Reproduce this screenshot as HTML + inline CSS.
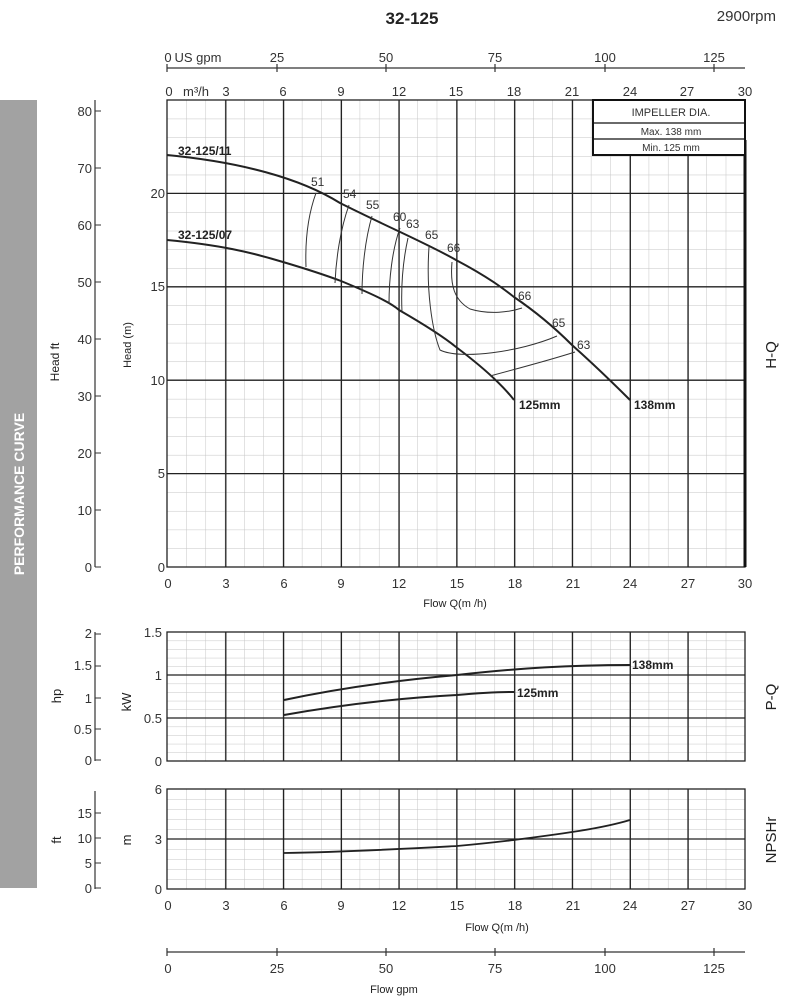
<!DOCTYPE html>
<html><head><meta charset="utf-8"><style>
html,body{margin:0;padding:0;background:#fff;}
svg{display:block;font-family:"Liberation Sans",sans-serif;}
</style></head><body>
<svg width="790" height="1000" viewBox="0 0 790 1000" xmlns="http://www.w3.org/2000/svg">
<defs>
<pattern id="gh" x="167" y="100" width="19.267" height="18.68" patternUnits="userSpaceOnUse">
<path d="M0 0V18.68M0 0H19.267" stroke="#c4c4c4" stroke-width="1" fill="none"/></pattern>
<pattern id="gp" x="167" y="632" width="19.267" height="8.6" patternUnits="userSpaceOnUse">
<path d="M0 0V8.6M0 0H19.267" stroke="#c4c4c4" stroke-width="1" fill="none"/></pattern>
<pattern id="gn" x="167" y="789" width="19.267" height="10" patternUnits="userSpaceOnUse">
<path d="M0 0V10M0 0H19.267" stroke="#c4c4c4" stroke-width="1" fill="none"/></pattern>
</defs>

<!-- titles -->
<text x="412" y="24" font-size="17" font-weight="bold" text-anchor="middle" fill="#222">32-125</text>
<text x="776" y="21" font-size="15" text-anchor="end" fill="#333">2900rpm</text>

<!-- gray band -->
<rect x="0" y="100" width="37" height="788" fill="#a2a2a2"/>
<text transform="translate(24,494) rotate(-90)" font-size="14" font-weight="bold" fill="#fff" text-anchor="middle">PERFORMANCE CURVE</text>

<!-- top axes -->
<g stroke="#333" stroke-width="1.2">
<line x1="167" y1="68" x2="745" y2="68"/>
<line x1="167" y1="64" x2="167" y2="72"/><line x1="277" y1="64" x2="277" y2="72"/><line x1="386" y1="64" x2="386" y2="72"/><line x1="495" y1="64" x2="495" y2="72"/><line x1="605" y1="64" x2="605" y2="72"/><line x1="714" y1="64" x2="714" y2="72"/>
</g>
<g font-size="13" fill="#333" text-anchor="middle">
<text x="168" y="62">0</text><text x="198" y="62" font-size="13">US gpm</text><text x="277" y="62">25</text><text x="386" y="62">50</text><text x="495" y="62">75</text><text x="605" y="62">100</text><text x="714" y="62">125</text>
<text x="169" y="96">0</text><text x="196" y="96">m³/h</text><text x="226" y="96">3</text><text x="283" y="96">6</text><text x="341" y="96">9</text><text x="399" y="96">12</text><text x="456" y="96">15</text><text x="514" y="96">18</text><text x="572" y="96">21</text><text x="630" y="96">24</text><text x="687" y="96">27</text><text x="745" y="96">30</text>
</g>

<!-- HEAD plot -->
<rect x="167" y="100" width="578" height="467" fill="url(#gh)"/>
<g stroke="#222" stroke-width="1.3">
<path d="M225.8 100V567M283.6 100V567M341.4 100V567M399.1 100V567M456.9 100V567M514.7 100V567M572.5 100V567M630.3 100V567M688.1 100V567"/>
<path d="M167 193.4H745M167 286.8H745M167 380.2H745M167 473.6H745"/>
<rect x="167" y="100" width="578" height="467" fill="none"/>
</g>
<line x1="745" y1="140" x2="745" y2="567" stroke="#111" stroke-width="3"/>
<g font-size="13" fill="#333" text-anchor="end">
<text x="165" y="198">20</text><text x="165" y="291">15</text><text x="165" y="385">10</text><text x="165" y="478">5</text><text x="165" y="572">0</text>
</g>
<text transform="translate(131,345) rotate(-90)" font-size="11" fill="#222" text-anchor="middle">Head (m)</text>
<!-- ft axis -->
<line x1="95" y1="100" x2="95" y2="567" stroke="#333" stroke-width="1.2"/>
<g stroke="#333"><path d="M95 111H101M95 168H101M95 225H101M95 282H101M95 339H101M95 396H101M95 453H101M95 510H101M95 567H101"/></g>
<g font-size="13" fill="#333" text-anchor="end">
<text x="92" y="116">80</text><text x="92" y="173">70</text><text x="92" y="230">60</text><text x="92" y="287">50</text><text x="92" y="344">40</text><text x="92" y="401">30</text><text x="92" y="458">20</text><text x="92" y="515">10</text><text x="92" y="572">0</text>
</g>
<text transform="translate(59,362) rotate(-90)" font-size="12" fill="#222" text-anchor="middle">Head ft</text>
<text transform="translate(776,355) rotate(-90)" font-size="15" fill="#222" text-anchor="middle">H-Q</text>

<!-- impeller box -->
<rect x="593" y="100" width="152" height="55" fill="#fff" stroke="#111" stroke-width="2"/>
<line x1="593" y1="123" x2="745" y2="123" stroke="#111" stroke-width="1.3"/>
<line x1="593" y1="139" x2="745" y2="139" stroke="#111" stroke-width="1.3"/>
<g font-size="11" fill="#333" text-anchor="middle">
<text x="671" y="116">IMPELLER DIA.</text><text x="671" y="135" font-size="10">Max.  138 mm</text><text x="671" y="151" font-size="10">Min.   125 mm</text>
</g>

<!-- H-Q curves -->
<g fill="none" stroke="#222" stroke-width="2">
<path d="M167 155 C 240 162, 300 178, 340 203 C 390 228, 430 245, 456 260 C 490 278, 505 290, 514 297 C 545 318, 565 338, 572 345 C 600 370, 615 385, 630 400"/>
<path d="M167 240 C 220 245, 250 252, 283 262 C 310 270, 325 275, 341 281 C 370 293, 390 302, 399 310 C 425 325, 445 338, 456 347 C 480 365, 500 382, 514 400"/>
</g>
<g fill="none" stroke="#333" stroke-width="1">
<path d="M316 193 C 308 215, 305 240, 306 267"/>
<path d="M349 205 C 340 230, 336 260, 335 283"/>
<path d="M372 216 C 365 240, 362 270, 362 294"/>
<path d="M400 228 C 392 250, 389 280, 389 304"/>
<path d="M408 238 C 402 265, 401 290, 402 312"/>
<path d="M429 247 C 426 290, 432 330, 440 350 C 460 360, 520 352, 557 336"/>
<path d="M452 262 C 450 285, 454 300, 470 309 C 490 315, 510 312, 522 308"/>
<path d="M490 376 C 520 368, 550 360, 575 352"/>
</g>
<g font-size="12" fill="#333">
<text x="311" y="186">51</text><text x="343" y="198">54</text><text x="366" y="209">55</text><text x="393" y="221">60</text><text x="406" y="228">63</text><text x="425" y="239">65</text><text x="447" y="252">66</text>
<text x="518" y="300">66</text><text x="552" y="327">65</text><text x="577" y="349">63</text>
</g>
<g font-size="12" font-weight="bold" fill="#222">
<text x="178" y="155">32-125/11</text><text x="178" y="239">32-125/07</text>
<text x="519" y="409">125mm</text><text x="634" y="409">138mm</text>
</g>
<g font-size="13" fill="#333" text-anchor="middle">
<text x="168" y="588">0</text><text x="226" y="588">3</text><text x="284" y="588">6</text><text x="341" y="588">9</text><text x="399" y="588">12</text><text x="457" y="588">15</text><text x="515" y="588">18</text><text x="573" y="588">21</text><text x="630" y="588">24</text><text x="688" y="588">27</text><text x="745" y="588">30</text>
</g>
<text x="455" y="607" font-size="11" fill="#222" text-anchor="middle">Flow Q(m /h)</text>

<!-- POWER plot -->
<rect x="167" y="632" width="578" height="129" fill="url(#gp)"/>
<g stroke="#222" stroke-width="1.3">
<path d="M225.8 632V761M283.6 632V761M341.4 632V761M399.1 632V761M456.9 632V761M514.7 632V761M572.5 632V761M630.3 632V761M688.1 632V761"/>
<path d="M167 675H745M167 718H745"/>
<rect x="167" y="632" width="578" height="129" fill="none"/>
</g>
<g font-size="13" fill="#333" text-anchor="end">
<text x="162" y="637">1.5</text><text x="162" y="680">1</text><text x="162" y="723">0.5</text><text x="162" y="766">0</text>
</g>
<text transform="translate(131,702) rotate(-90)" font-size="13" fill="#222" text-anchor="middle">kW</text>
<line x1="95" y1="632" x2="95" y2="761" stroke="#333" stroke-width="1.2"/>
<g stroke="#333"><path d="M95 634H101M95 666H101M95 698H101M95 729H101M95 760H101"/></g>
<g font-size="13" fill="#333" text-anchor="end">
<text x="92" y="638">2</text><text x="92" y="670">1.5</text><text x="92" y="703">1</text><text x="92" y="734">0.5</text><text x="92" y="765">0</text>
</g>
<text transform="translate(61,696) rotate(-90)" font-size="13" fill="#222" text-anchor="middle">hp</text>
<text transform="translate(776,697) rotate(-90)" font-size="15" fill="#222" text-anchor="middle">P-Q</text>
<g fill="none" stroke="#222" stroke-width="2">
<path d="M284 700 C 340 688, 400 680, 457 675 C 520 668, 570 665, 630 665"/>
<path d="M284 715 C 340 705, 400 698, 457 695 C 480 693, 500 692, 514 692"/>
</g>
<g font-size="12" font-weight="bold" fill="#222">
<text x="632" y="669">138mm</text><text x="517" y="697">125mm</text>
</g>

<!-- NPSH plot -->
<rect x="167" y="789" width="578" height="100" fill="url(#gn)"/>
<g stroke="#222" stroke-width="1.3">
<path d="M225.8 789V889M283.6 789V889M341.4 789V889M399.1 789V889M456.9 789V889M514.7 789V889M572.5 789V889M630.3 789V889M688.1 789V889"/>
<path d="M167 839H745"/>
<rect x="167" y="789" width="578" height="100" fill="none"/>
</g>
<g font-size="13" fill="#333" text-anchor="end">
<text x="162" y="794">6</text><text x="162" y="844">3</text><text x="162" y="894">0</text>
</g>
<text transform="translate(131,840) rotate(-90)" font-size="13" fill="#222" text-anchor="middle">m</text>
<line x1="95" y1="791" x2="95" y2="889" stroke="#333" stroke-width="1.2"/>
<g stroke="#333"><path d="M95 813H101M95 838H101M95 863H101M95 888H101"/></g>
<g font-size="13" fill="#333" text-anchor="end">
<text x="92" y="818">15</text><text x="92" y="843">10</text><text x="92" y="868">5</text><text x="92" y="893">0</text>
</g>
<text transform="translate(61,840) rotate(-90)" font-size="13" fill="#222" text-anchor="middle">ft</text>
<text transform="translate(776,840) rotate(-90)" font-size="15" fill="#222" text-anchor="middle">NPSHr</text>
<path d="M284 853 C 350 852, 420 848, 457 846 C 490 843, 505 841, 514 840 C 560 834, 600 829, 630 820" fill="none" stroke="#222" stroke-width="1.8"/>
<g font-size="13" fill="#333" text-anchor="middle">
<text x="168" y="910">0</text><text x="226" y="910">3</text><text x="284" y="910">6</text><text x="341" y="910">9</text><text x="399" y="910">12</text><text x="457" y="910">15</text><text x="515" y="910">18</text><text x="573" y="910">21</text><text x="630" y="910">24</text><text x="688" y="910">27</text><text x="745" y="910">30</text>
</g>
<text x="497" y="931" font-size="11" fill="#222" text-anchor="middle">Flow  Q(m /h)</text>

<!-- bottom gpm axis -->
<g stroke="#333" stroke-width="1.2">
<line x1="167" y1="952" x2="745" y2="952"/>
<path d="M167 948V956M277 948V956M386 948V956M495 948V956M605 948V956M714 948V956"/>
</g>
<g font-size="13" fill="#333" text-anchor="middle">
<text x="168" y="973">0</text><text x="277" y="973">25</text><text x="386" y="973">50</text><text x="495" y="973">75</text><text x="605" y="973">100</text><text x="714" y="973">125</text>
</g>
<text x="394" y="993" font-size="11" fill="#222" text-anchor="middle">Flow  gpm</text>
</svg>
</body></html>
